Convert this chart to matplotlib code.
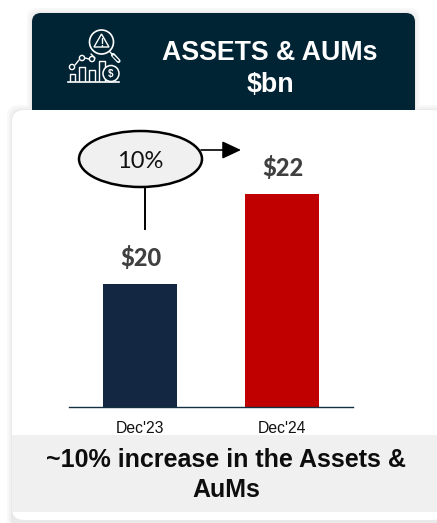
import matplotlib
matplotlib.use('Agg')
import matplotlib.pyplot as plt
from matplotlib.patches import FancyBboxPatch, Rectangle, Ellipse, Circle, Polygon

categories = ["Dec'23", "Dec'24"]
values = [20, 22]
value_labels = ['$20', '$22']
bar_colors = ['#132743', '#c00000']
growth_label = '10%'
title_lines = 'ASSETS & AUMs\n$bn'
footer_text = '~10% increase in the Assets &\nAuMs'

navy = '#012435'
grey = '#f0f0f0'

fig = plt.figure(figsize=(4.37, 5.23), dpi=100, facecolor='white')

# overlay in pixel coords for the card, header, bubble and icon
bg = fig.add_axes([0, 0, 1, 1], zorder=0)
bg.set_xlim(0, 437)
bg.set_ylim(523, 0)
bg.axis('off')


def rbox(x0, y0, x1, y1, r, **kw):
	p = FancyBboxPatch((x0 + r, y0 + r), x1 - x0 - 2 * r, y1 - y0 - 2 * r,
		boxstyle='round,pad=%d,rounding_size=%d' % (r, r), linewidth=0, **kw)
	bg.add_patch(p)


# soft shadows
for grow, shade in [(5, '#f8f8f8'), (3, '#f2f2f2'), (1, '#e9e9e9')]:
	rbox(32 - grow, 13 - grow, 415 + grow, 120, 10, facecolor=shade)
	rbox(12 - grow, 110 - grow, 445, 523 + 8, 12, facecolor=shade)
rbox(32, 13, 415, 120, 9, facecolor=navy)
rbox(12, 110, 445, 520, 12, facecolor='white')
bg.add_patch(Rectangle((12, 435), 425, 77, facecolor=grey, linewidth=0))

bg.text(270, 69, title_lines, color='white', ha='center', va='center',
	family='Liberation Sans', fontweight='bold', fontsize=19.3, linespacing=1.32)
bg.text(226, 475, footer_text, color='#0d0d0d', ha='center', va='center',
	family='Liberation Sans', fontweight='bold', fontsize=18, linespacing=1.33)

# icon
ic = dict(color='white', lw=1.0, solid_capstyle='round')
bg.add_patch(Circle((101.5, 42), 12, fill=False, ec='white', lw=1.2))
bg.add_patch(Polygon([[101.5, 34], [94, 47], [109, 47]], closed=True, fill=False, ec='white', lw=1.0))
bg.plot([101.5, 101.5], [38, 43], **ic)
bg.plot([101.5, 101.5], [44.5, 45.5], **ic)
bg.plot([110, 113], [52, 55], **ic)
bg.plot([113, 118.5], [55, 61], color='white', lw=3, solid_capstyle='round')
bg.plot([113.5, 118], [56, 60.5], color=navy, lw=1.2, solid_capstyle='round')
bg.plot([68, 119], [81.5, 81.5], color='white', lw=1.2)
for x0, x1, top in [(70, 75, 74), (79, 85, 67), (89, 95, 70), (99, 105, 61)]:
	bg.plot([x0, x0, x1, x1], [81, top, top, 81], **ic)
bg.add_patch(Circle((111, 73.5), 8, facecolor=navy, ec='white', lw=1.1, zorder=3))
bg.text(111, 73.5, '$', color='white', fontsize=7, ha='center', va='center',
	family='Liberation Sans', fontweight='bold', zorder=4)
bg.plot([75, 79], [65, 60], **ic)
bg.plot([85, 89], [58, 59], **ic)
bg.plot([95, 91], [58, 54], **ic)
for cx, cy in [(72, 67), (82, 58), (92, 59)]:
	bg.add_patch(Circle((cx, cy), 2.6, facecolor=navy, ec='white', lw=1.0, zorder=3))

# bars, axis is cut off well above zero
ax = fig.add_axes([69 / 437, 1 - 407 / 523, 284 / 437, 287 / 523], zorder=1)
ax.patch.set_alpha(0)
xpos = range(len(categories))
ax.bar(xpos, values, width=0.525, color=bar_colors)
ax.set_xlim(-0.5, 1.5)
ax.set_ylim(17.27, 23.65)
ax.set_xticks(list(xpos))
ax.set_xticklabels(categories, family='Liberation Sans', fontsize=11.3, color='#111111')
ax.tick_params(axis='x', length=0, pad=10)
ax.set_yticks([])
for s in ['top', 'left', 'right']:
	ax.spines[s].set_visible(False)
ax.spines['bottom'].set_color('#12303f')
ax.spines['bottom'].set_linewidth(1.0)
for i in xpos:
	ax.annotate(value_labels[i], (i, values[i]), xytext=(1, 19), textcoords='offset points',
		ha='center', va='center', family='Lato', fontweight='black', fontsize=17, color='#404040')

# growth bubble on top
top = fig.add_axes([0, 0, 1, 1], zorder=2)
top.set_xlim(0, 437)
top.set_ylim(523, 0)
top.axis('off')
top.plot([145, 145], [187, 229], color='black', lw=1.4)
top.annotate('', xy=(241, 150), xytext=(201, 150),
	arrowprops=dict(arrowstyle='-|>,head_width=0.54,head_length=1.15', color='black', lw=1.2,
		shrinkA=0, shrinkB=0, mutation_scale=10))
top.add_patch(Ellipse((140.5, 159), 123, 56, facecolor=grey, edgecolor='black', lw=1.8))
top.text(140.5, 161.5, growth_label, ha='center', va='center', family='Lato', fontsize=17, color='#111111')

fig.savefig('out.png', dpi=100)
